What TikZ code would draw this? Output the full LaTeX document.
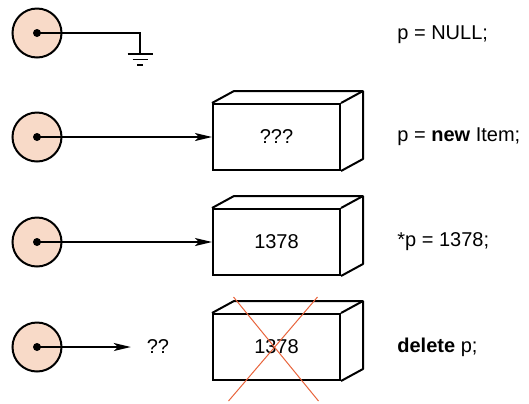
\documentclass[tikz,border=0pt]{standalone}
\usepackage{fontspec}
\setmainfont{Liberation Sans}
\usepackage{xcolor}
\usepackage{tikz}
\usetikzlibrary{arrows.meta, positioning}

\definecolor{ptrfill}{RGB}{248,218,200}
\definecolor{crossred}{RGB}{232,100,60}

\begin{document}
\begin{tikzpicture}[
        x=0.5pt, y=-0.5pt,
        ptr/.style={circle, draw=black, line width=1pt, fill=ptrfill, minimum size=24.5pt, inner sep=0pt},
        dot/.style={circle, fill=black, minimum size=4pt, inner sep=0pt},
        cell/.style={rectangle, draw=black, line width=1pt, fill=white, minimum width=63.5pt, minimum height=33pt, inner sep=0pt},
        code/.style={anchor=west, inner sep=0pt},
        arrow/.style={-{Stealth[length=8.5pt, width=4pt, inset=2pt]}, line width=0.8pt},
        wire/.style={line width=0.8pt},
        edge3d/.style={line width=1pt, line join=round},
    ]
        \useasboundingbox (0,0) rectangle (529,403);

        % Pointer variables
        \node[ptr] (p1) at (37,33) {};
        \node[ptr] (p2) at (37,137) {};
        \node[ptr] (p3) at (37,242) {};
        \node[ptr] (p4) at (37,347) {};
        \node[dot] (d1) at (p1.center) {};
        \node[dot] (d2) at (p2.center) {};
        \node[dot] (d3) at (p3.center) {};
        \node[dot] (d4) at (p4.center) {};

        % Heap cells
        \node[cell] (b2) at (276.5,137) {???};
        \node[cell] (b3) at (276.5,242) {1378};
        \node[cell] (b4) at (276.5,347) {1378};
        \draw[edge3d] (b2.north west) -- ++(22,-12) -- ([shift={(22,-12)}]b2.north east) -- ([shift={(22,-12)}]b2.south east) -- (b2.south east);
        \draw[edge3d] (b2.north east) -- ++(22,-12);
        \draw[edge3d] (b3.north west) -- ++(22,-12) -- ([shift={(22,-12)}]b3.north east) -- ([shift={(22,-12)}]b3.south east) -- (b3.south east);
        \draw[edge3d] (b3.north east) -- ++(22,-12);
        \draw[edge3d] (b4.north west) -- ++(22,-12) -- ([shift={(22,-12)}]b4.north east) -- ([shift={(22,-12)}]b4.south east) -- (b4.south east);
        \draw[edge3d] (b4.north east) -- ++(22,-12);

        % Dangling target
        \node (dangle) at (158,347) {??};

        % Ground for NULL
        \coordinate (gnd) at (140,54);
        \draw[wire] (d1.center) -| (gnd);
        \draw[wire] ([shift={(-12.5,0)}]gnd) -- ([shift={(12.5,0)}]gnd);
        \draw[wire] ([shift={(-7.5,5.5)}]gnd) -- ([shift={(7.5,5.5)}]gnd);
        \draw[wire] ([shift={(-3,11)}]gnd) -- ([shift={(3,11)}]gnd);

        % Arrows
        \draw[arrow] (d2.center) -- (b2.west);
        \draw[arrow] (d3.center) -- (b3.west);
        \draw[arrow, shorten >=4.5pt] (d4.center) -- (dangle.west);

        % Freed cell
        \draw[crossred, line width=0.5pt] ([shift={(-43,-50)}]b4.center) -- ([shift={(42,54)}]b4.center);
        \draw[crossred, line width=0.5pt] ([shift={(41,-50)}]b4.center) -- ([shift={(-48,54)}]b4.center);

        % Statements
        \node[code] (s1) at (397,35) {p = NULL;};
        \node[code] (s2) at (397,137) {p = \textbf{new} Item;};
        \node[code] (s3) at (397,242) {*p = 1378;};
        \node[code] (s4) at (397,347) {\textbf{delete} p;};
    \end{tikzpicture}
\end{document}
